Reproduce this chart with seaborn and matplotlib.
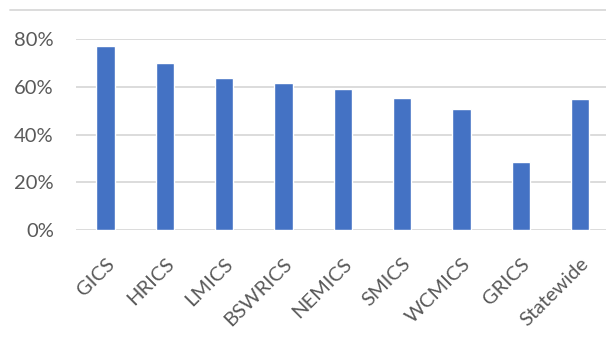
import matplotlib
matplotlib.use("Agg")
import matplotlib.pyplot as plt
from matplotlib.lines import Line2D
from matplotlib.ticker import PercentFormatter
import seaborn as sns
import pandas as pd

regions = ["GICS", "HRICS", "LMICS", "BSWRICS", "NEMICS", "SMICS", "WCMICS", "GRICS", "Statewide"]
shares = [0.769, 0.698, 0.635, 0.614, 0.592, 0.553, 0.507, 0.284, 0.550]
y_ticks = [0.0, 0.2, 0.4, 0.6, 0.8]

sns.set_theme(style="white")
plt.rcParams["font.family"] = ["Lato", "DejaVu Sans"]

df = pd.DataFrame({"region": regions, "share": shares})

fig = plt.figure(figsize=(6.06, 3.47), dpi=100)
ax = fig.add_axes([76 / 606, 117 / 347, (609.7 - 76) / 606, (230 - 39) / 347])

sns.barplot(data=df, x="region", y="share", color="#4472C4", saturation=1,
            width=0.31, ax=ax, zorder=3)

ax.set_ylim(0, 0.8)
ax.set_yticks(y_ticks)
ax.yaxis.set_major_formatter(PercentFormatter(1.0, decimals=0))
ax.grid(axis="y", color="#D9D9D9", linewidth=1.3, zorder=0)
ax.set_axisbelow(True)
for s in ax.spines.values():
    s.set_visible(False)
ax.set_xlabel("")
ax.set_ylabel("")
ax.tick_params(axis="y", length=0, pad=16, labelsize=14.5, labelcolor="#595959")
ax.tick_params(axis="x", length=0, pad=18, labelsize=14.5, labelcolor="#595959")
for lbl in ax.get_xticklabels():
    lbl.set_rotation(45)
    lbl.set_ha("right")
    lbl.set_rotation_mode("anchor")

# chart frame edge along the top
fig.add_artist(Line2D([10 / 606, 1.0], [1 - 10 / 347, 1 - 10 / 347],
                      transform=fig.transFigure, color="#D9D9D9", linewidth=1.3))

fig.savefig("out.png", dpi=100)
